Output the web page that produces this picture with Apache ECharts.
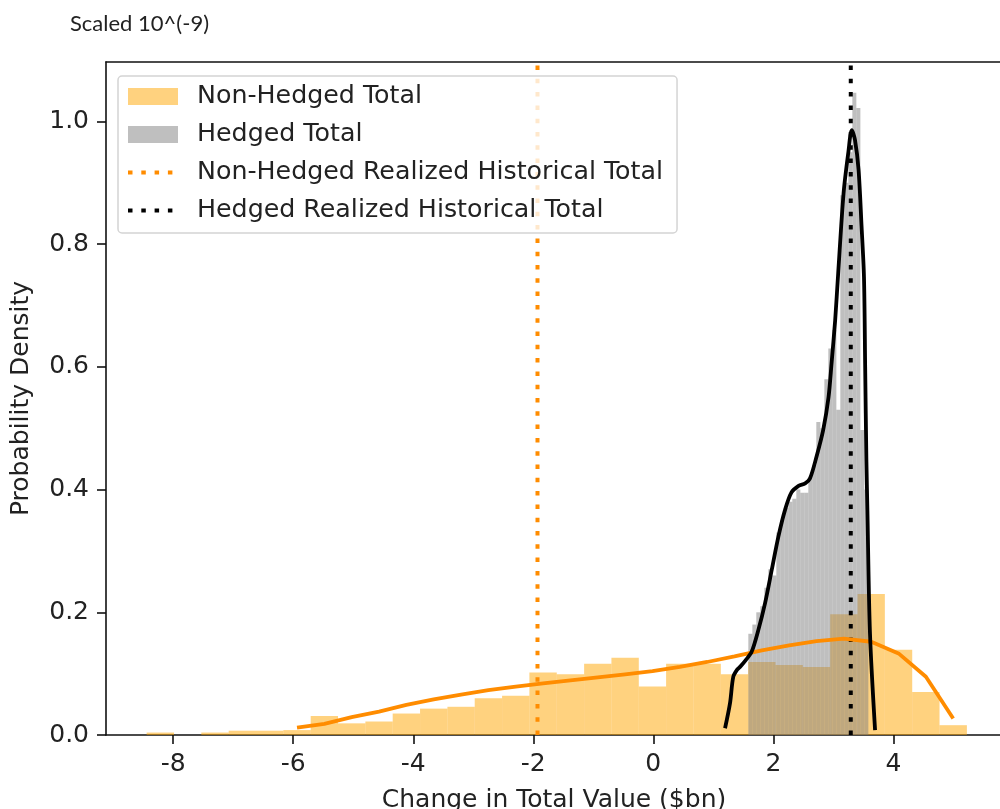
<!DOCTYPE html>
<html>
<head>
<meta charset="utf-8">
<script src="https://cdn.jsdelivr.net/npm/echarts@6/dist/echarts.min.js"></script>
<style>
  html, body { margin: 0; padding: 0; background: #fff; }
  #chart { width: 1000px; height: 809px; }
</style>
</head>
<body>
<div id="chart"></div>
<script>
// histogram bin edges and densities
const nonHedgedEdges = [-8.443, -7.987, -7.532, -7.076, -6.621, -6.165, -5.709, -5.254, -4.798, -4.343,
  -3.887, -3.431, -2.976, -2.520, -2.065, -1.609, -1.153, -0.698, -0.242, 0.213,
  0.669, 1.125, 1.580, 2.036, 2.491, 2.947, 3.403, 3.858, 4.314, 4.769, 5.225]
const nonHedgedDensity = [0.004, 0, 0.004, 0.007, 0.007, 0.008, 0.031, 0.019, 0.022, 0.035,
  0.043, 0.046, 0.060, 0.064, 0.102, 0.099, 0.116, 0.126, 0.079, 0.116,
  0.116, 0.099, 0.119, 0.114, 0.111, 0.197, 0.230, 0.139, 0.070, 0.016]

const hedgedEdges = [1.583, 1.650, 1.716, 1.783, 1.850, 1.916, 1.983, 2.050, 2.116, 2.183,
  2.250, 2.316, 2.383, 2.450, 2.516, 2.583, 2.650, 2.716, 2.783, 2.850,
  2.916, 2.983, 3.050, 3.116, 3.183, 3.250, 3.316, 3.383, 3.450, 3.516, 3.583]
const hedgedDensity = [0.165, 0.18, 0.20, 0.21, 0.24, 0.27, 0.26, 0.33, 0.35, 0.37,
  0.38, 0.385, 0.40, 0.395, 0.395, 0.42, 0.44, 0.51, 0.50, 0.58,
  0.63, 0.66, 0.53, 0.88, 0.90, 0.95, 1.047, 1.022, 0.497, 0.40]

// kde curves
const nonHedgedKdeX = [-5.937, -5.481, -5.026, -4.570, -4.115, -3.659, -3.203, -2.748, -2.292, -1.837,
  -1.381, -0.925, -0.470, -0.014, 0.442, 0.897, 1.353, 1.808, 2.264, 2.720,
  3.175, 3.631, 4.086, 4.542, 4.997]
const nonHedgedKdeY = [0.012, 0.018, 0.029, 0.038, 0.049, 0.058, 0.066, 0.073, 0.079, 0.084,
  0.089, 0.094, 0.099, 0.104, 0.111, 0.119, 0.128, 0.138, 0.146, 0.153,
  0.157, 0.152, 0.133, 0.095, 0.027]

const hedgedKdeX = [1.195, 1.278, 1.333, 1.40, 1.445, 1.54, 1.64, 1.75, 1.862, 1.973,
  2.083, 2.195, 2.30, 2.42, 2.53, 2.61, 2.72, 2.83, 2.92, 2.97,
  3.03, 3.08, 3.17, 3.25, 3.307, 3.36, 3.42, 3.47, 3.51, 3.53,
  3.55, 3.567, 3.61, 3.695]
const hedgedKdeY = [0.011, 0.052, 0.095, 0.107, 0.111, 0.122, 0.136, 0.171, 0.215, 0.269,
  0.323, 0.367, 0.395, 0.406, 0.41, 0.418, 0.454, 0.497, 0.551, 0.606,
  0.676, 0.752, 0.883, 0.95, 0.986, 0.97, 0.921, 0.829, 0.747, 0.60,
  0.45, 0.367, 0.166, 0.008]

// realized historical totals
const nonHedgedRealized = [-1.93]
const hedgedRealized = [3.29]

const xTicks = [-8, -6, -4, -2, 0, 2, 4]
const yTicks = [0, 0.2, 0.4, 0.6, 0.8, 1.0]

const X_MIN = -9.12
const X_MAX = 5.81
const Y_MAX = 1.097
const FONT = '"DejaVu Sans", sans-serif'
const SPINE = { color: '#111', width: 1.6 }
const DOT_DASH = [4.5, 8.8]
// four dots in a 50x17 box (corner moves pin the box size)
const DOTS_ICON = 'path://M0,0L0,0M50,17L50,17M0,6.5h4.5v4h-4.5zM13.3,6.5h4.5v4h-4.5zM26.6,6.5h4.5v4h-4.5zM39.9,6.5h4.5v4h-4.5z'

function binsOf(edges, dens) {
  return dens.map((d, i) => [edges[i], edges[i + 1], d])
}
function zip(xs, ys) {
  return xs.map((x, i) => [x, ys[i]])
}
function histSeries(name, data, color) {
  return {
    name,
    type: 'custom',
    data,
    encode: { x: [0, 1], y: 2 },
    itemStyle: { color },
    renderItem: (params, api) => {
      const p0 = api.coord([api.value(0), 0])
      const p1 = api.coord([api.value(1), api.value(2)])
      return {
        type: 'rect',
        shape: { x: p0[0], y: p1[1], width: p1[0] - p0[0], height: p0[1] - p1[1] },
        style: { fill: color },
      }
    },
  }
}
function vlineSeries(name, xs, color) {
  return {
    name,
    type: 'custom',
    data: xs.map(x => [x]),
    encode: { x: 0 },
    itemStyle: { color },
    z: 3,
    renderItem: (params, api) => {
      const a = api.coord([api.value(0), 0])
      const b = api.coord([api.value(0), Y_MAX])
      return {
        type: 'line',
        shape: { x1: a[0], y1: a[1], x2: b[0], y2: b[1] },
        style: { stroke: color, lineWidth: 4, lineDash: DOT_DASH, lineCap: 'butt' },
      }
    },
  }
}

const chart = echarts.init(document.getElementById('chart'))
chart.setOption({
  animation: false,
  title: {
    text: 'Scaled 10^(-9)',
    left: 65,
    top: 8,
    textStyle: { fontFamily: 'Lato, sans-serif', fontSize: 22, fontWeight: 'normal', color: '#222' },
  },
  grid: {
    left: 106, right: -2, top: 62, bottom: 74,
    outerBoundsMode: 'none',
    containLabel: false,
  },
  legend: {
    orient: 'vertical',
    left: 118,
    top: 76,
    z: 10,
    padding: [8, 14, 10, 10],
    itemWidth: 50,
    itemHeight: 17,
    itemGap: 13,
    backgroundColor: 'rgba(255,255,255,0.8)',
    borderColor: '#d4d4d4',
    borderWidth: 1.5,
    borderRadius: 4,
    textStyle: { fontFamily: FONT, fontSize: 25.3, color: '#222', padding: [0, 0, 0, 14] },
    data: [
      { name: 'Non-Hedged Total', icon: 'rect' },
      { name: 'Hedged Total', icon: 'rect' },
      { name: 'Non-Hedged Realized Historical Total', icon: DOTS_ICON },
      { name: 'Hedged Realized Historical Total', icon: DOTS_ICON },
    ],
  },
  xAxis: [
    {
      type: 'value',
      min: X_MIN,
      max: X_MAX,
      name: 'Change in Total Value ($bn)',
      nameLocation: 'middle',
      nameGap: 53,
      nameTextStyle: { fontFamily: FONT, fontSize: 25, color: '#222', verticalAlign: 'top' },
      axisLine: { show: true, onZero: false, lineStyle: SPINE },
      splitLine: { show: false },
      axisTick: { show: true, length: 9, customValues: xTicks, lineStyle: SPINE },
      axisLabel: {
        customValues: xTicks, margin: 17,
        fontFamily: FONT, fontSize: 25, color: '#222',
        formatter: v => String(v),
      },
    },
    {
      type: 'value',
      position: 'top',
      min: X_MIN,
      max: X_MAX,
      axisLine: { show: true, onZero: false, lineStyle: SPINE },
      axisTick: { show: false },
      axisLabel: { show: false },
      splitLine: { show: false },
    },
  ],
  yAxis: {
    type: 'value',
    min: 0,
    max: Y_MAX,
    name: 'Probability Density',
    nameLocation: 'middle',
    nameGap: 72,
    nameRotate: 90,
    nameTextStyle: { fontFamily: FONT, fontSize: 25, color: '#222' },
    axisLine: { show: true, onZero: false, lineStyle: SPINE },
    splitLine: { show: false },
    axisTick: { show: true, length: 9, customValues: yTicks, lineStyle: SPINE },
    axisLabel: {
      customValues: yTicks, margin: 17,
      fontFamily: FONT, fontSize: 25, color: '#222',
      formatter: v => v.toFixed(1),
    },
  },
  series: [
    histSeries('Non-Hedged Total', binsOf(nonHedgedEdges, nonHedgedDensity), 'rgba(255,165,0,0.5)'),
    histSeries('Hedged Total', binsOf(hedgedEdges, hedgedDensity), 'rgba(128,128,128,0.5)'),
    {
      name: 'Non-Hedged KDE',
      type: 'line',
      data: zip(nonHedgedKdeX, nonHedgedKdeY),
      showSymbol: false,
      symbol: 'none',
      lineStyle: { color: '#FF8C00', width: 3.8 },
      z: 3,
    },
    {
      name: 'Hedged KDE',
      type: 'line',
      data: zip(hedgedKdeX, hedgedKdeY),
      showSymbol: false,
      symbol: 'none',
      smooth: 0.3,
      lineStyle: { color: '#000', width: 3.8 },
      z: 3,
    },
    vlineSeries('Non-Hedged Realized Historical Total', nonHedgedRealized, '#FF8C00'),
    vlineSeries('Hedged Realized Historical Total', hedgedRealized, '#000'),
  ],
})
</script>
</body>
</html>
